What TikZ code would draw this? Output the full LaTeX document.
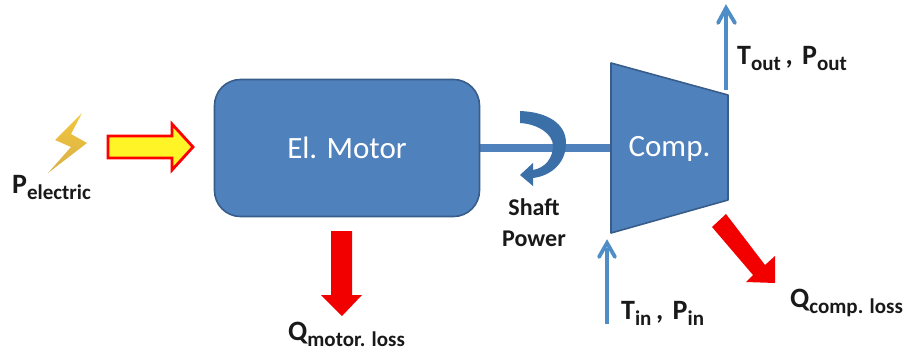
\documentclass[tikz,border=0pt]{standalone}
\usepackage{fontspec}
\setmainfont{Carlito}
\definecolor{bfill}{HTML}{4F81BD}
\definecolor{bedge}{HTML}{385D8A}
\definecolor{thin}{HTML}{4F8DC6}
\definecolor{dk}{HTML}{3A6FA8}
\definecolor{boltA}{HTML}{F2C73A}
\definecolor{boltB}{HTML}{D9B04A}
\newcommand{\lbl}[2]{{\fontsize{28}{28}\selectfont\bfseries #1}{\fontsize{21}{21}\selectfont\bfseries\raisebox{-6pt}{#2}}}
\newcommand{\cma}{{\fontsize{28}{28}\selectfont\bfseries\,,\,\,}}
\tikzset{
  solid box/.style={fill=bfill,draw=bedge,line width=1.6pt,line join=round},
  red arrow/.style={fill=red!95!black,draw=none},
  flow/.style={draw=thin,line width=3.2pt},
  flowhead/.style={draw=thin,line width=3.8pt,fill=none,line cap=round,line join=miter},
  txt/.style={inner sep=0pt,text=black!90,anchor=base west}
}
\begin{document}
\begin{tikzpicture}[x=1pt,y=-1pt]
\useasboundingbox (0,0) rectangle (904,354);
\fill[white] (0,0) rectangle (904,354);
% shaft
\coordinate (shaftL) at (480,148);
\coordinate (shaftR) at (611,148);
\draw[bfill,line width=7.5pt] (shaftL) -- (shaftR);
% motor
\node[solid box,rounded corners=26pt,minimum width=265pt,minimum height=137pt,inner sep=0pt,text=white,font=\fontsize{31}{31}\selectfont] (motor) at (347,148) {\raisebox{-1pt}{El. Motor}};
% compressor
\draw[solid box] (611,63) -- (728,95) -- (728,200) -- (611,233) -- cycle;
\node[text=white,font=\fontsize{31}{31}\selectfont,inner sep=0pt] (comp) at (669.5,149) {Comp.};
% curved arrow
\fill[dk] (520,111) .. controls (548,112) and (566,124) .. (566,143)
  .. controls (566,164) and (550,176) .. (533,178) -- (533,186) -- (520,175) -- (533,163) -- (533,170)
  .. controls (545,168) and (553,158) .. (553,146) .. controls (553,134) and (538,124) .. (520,123) -- cycle;
% lightning
\shade[top color=boltA,bottom color=boltB,draw=none]
  (82,113) -- (55,140) -- (71,147) -- (48,173) -- (87,143) -- (71,134) -- cycle;
% yellow arrow
\draw[fill=yellow!85!white,draw=red,line width=2.8pt,line join=miter]
  (108,136) -- (172,136) -- (172,124) -- (193,147) -- (172,170) -- (172,158) -- (108,158) -- cycle;
% flow arrows
\coordinate (outA) at (726,90); \coordinate (outB) at (726,7);
\draw[flow] (outA) -- (726,12);
\draw[flowhead] (718,23) -- (726,8) -- (735,23);
\coordinate (inA) at (607,324); \coordinate (inB) at (607,243);
\draw[flow] (inA) -- (607,248);
\draw[flowhead] (599,257) -- (607,243) -- (615,257);
% red arrows
\fill[red arrow] (331,231) -- (352,231) -- (352,295) -- (362,295) -- (342,316) -- (321,295) -- (331,295) -- cycle;
\fill[red arrow] (726,214) -- (765,265) -- (775,256) -- (775,283) -- (746,282) -- (753,275) -- (712,227) -- cycle;
% labels
\node[txt] (pe) at (12,193) {\lbl{P}{electric}};
\node[txt] (to) at (737,64) {\lbl{T}{out}\cma\lbl{P}{out}};
\node[txt] (ti) at (621,319) {\lbl{T}{in}\cma\lbl{P}{in}};
\node[txt] (qc) at (790,307) {\lbl{Q}{comp. loss}};
\node[txt] (qm) at (288,340) {\lbl{Q}{motor. loss}};
\node[font=\fontsize{24}{31}\selectfont\bfseries,align=center,inner sep=0pt,text=black!90] (sp) at (534,223) {Shaft\\Power};
\end{tikzpicture}
\end{document}
